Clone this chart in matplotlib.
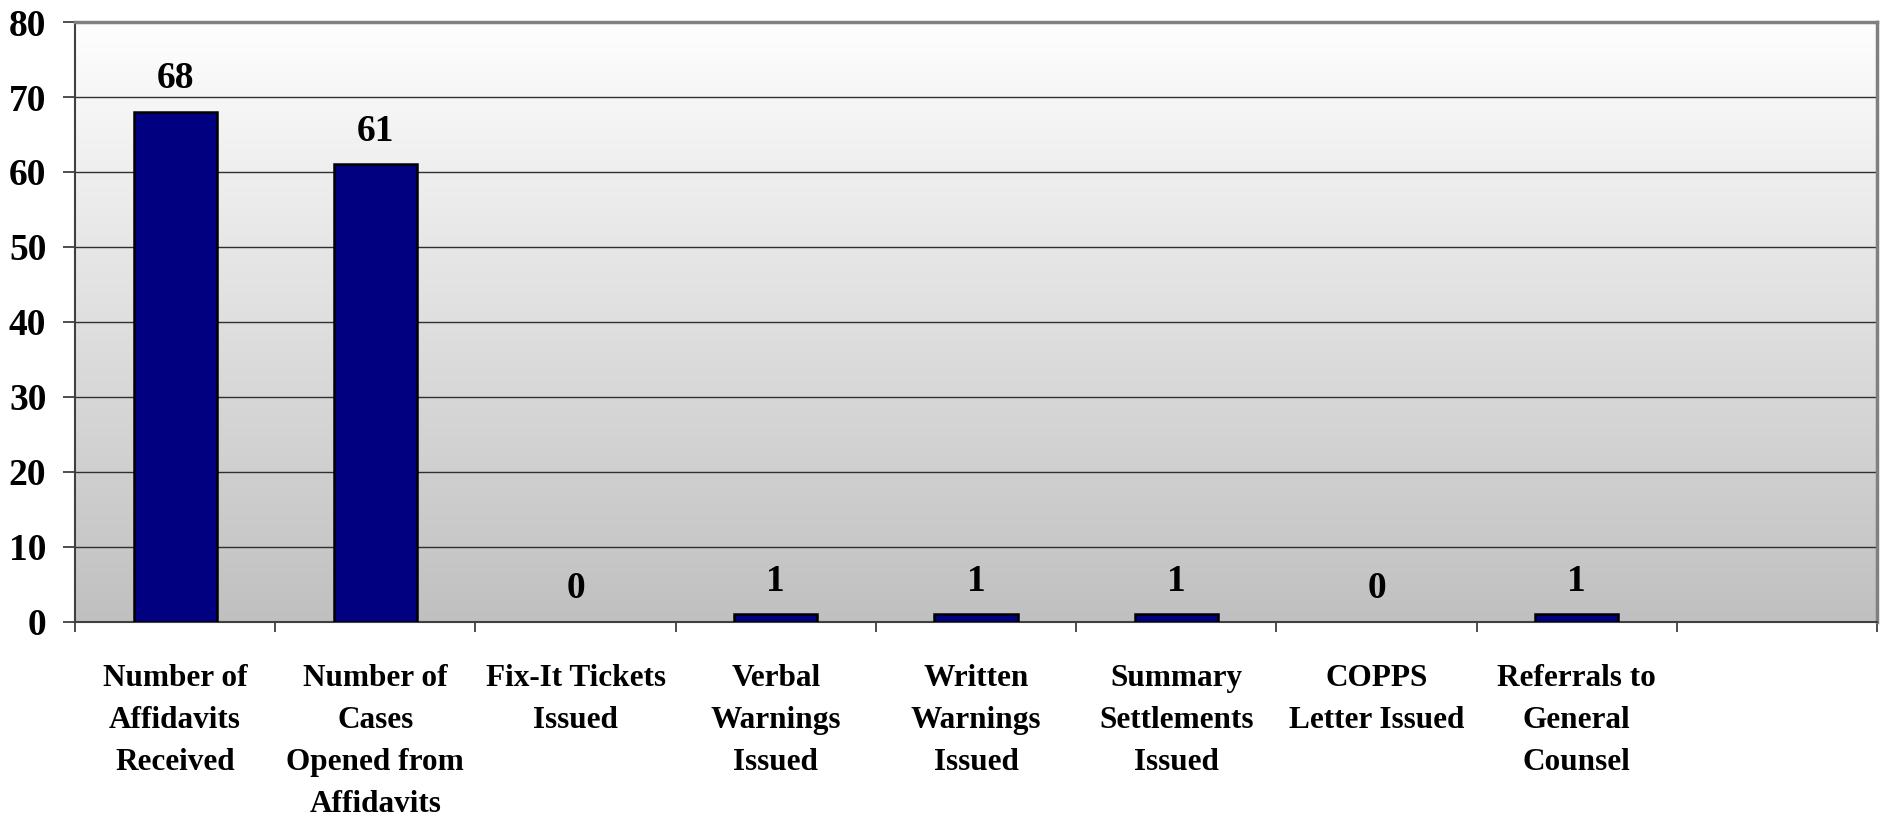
import numpy as np
import matplotlib
matplotlib.use('Agg')
import matplotlib.pyplot as plt

# data
categories = ['Number of\nAffidavits\nReceived',
              'Number of\nCases\nOpened from\nAffidavits',
              'Fix-It Tickets\nIssued',
              'Verbal\nWarnings\nIssued',
              'Written\nWarnings\nIssued',
              'Summary\nSettlements\nIssued',
              'COPPS\nLetter Issued',
              'Referrals to\nGeneral\nCounsel',
              '']
values = [68, 61, 0, 1, 1, 1, 0, 1]

plt.rcParams['font.family'] = ['Liberation Serif', 'DejaVu Serif']
plt.rcParams['font.weight'] = 'bold'

fig = plt.figure(figsize=(18.84, 8.21), dpi=100)
ax = fig.add_axes([0.0398, 0.2424, 0.9565, 0.7308])

# gradient background, white at top to gray at bottom
grad = np.linspace(0, 1, 256).reshape(-1, 1)
ax.imshow(grad, extent=[0, 1, 0, 1], transform=ax.transAxes, aspect='auto',
          cmap=matplotlib.colors.LinearSegmentedColormap.from_list('bg', ['#c0c0c0', '#fefefe']),
          origin='lower', zorder=-2)

x = np.arange(len(values))
bars = ax.bar(x, values, width=0.415, color='#000080', edgecolor='black',
              linewidth=1.8, zorder=3)
# zero bars show no outline in the original
for b, v in zip(bars, values):
    if v == 0:
        b.set_linewidth(0)

for xi, v in zip(x, values):
    ax.annotate(str(v), (xi, v), xytext=(0, 17), textcoords='offset points',
                ha='center', va='baseline', fontsize=27, fontweight='bold')

ax.set_xlim(-0.5, len(categories) - 0.5)
ax.set_ylim(0, 80)
ax.set_yticks(range(0, 81, 10))
ax.yaxis.grid(True, color='#303030', linewidth=1.0)
ax.set_axisbelow(True)

# boundary ticks (major) and centred labels (minor)
ax.set_xticks(np.arange(-0.5, len(categories), 1.0))
ax.set_xticklabels([])
ax.set_xticks(np.arange(len(categories)), minor=True)
ax.set_xticklabels(categories, minor=True, fontsize=22.5, fontweight='bold',
                   linespacing=1.6, va='top')
ax.tick_params(axis='x', which='major', direction='out', length=7.5, width=1.2,
               color='#303030')
ax.tick_params(axis='x', which='minor', length=0, pad=30)
ax.tick_params(axis='y', direction='out', length=8.6, width=1.2, color='#303030',
               labelsize=27, pad=12)
for lab in ax.get_yticklabels():
    lab.set_fontweight('bold')

ax.spines['top'].set_color('#808080')
ax.spines['top'].set_linewidth(2.5)
ax.spines['right'].set_color('#808080')
ax.spines['right'].set_linewidth(2.5)
ax.spines['left'].set_color('#404040')
ax.spines['left'].set_linewidth(1.5)
ax.spines['bottom'].set_color('#404040')
ax.spines['bottom'].set_linewidth(1.5)

fig.savefig('out.png', dpi=100, facecolor='white')
